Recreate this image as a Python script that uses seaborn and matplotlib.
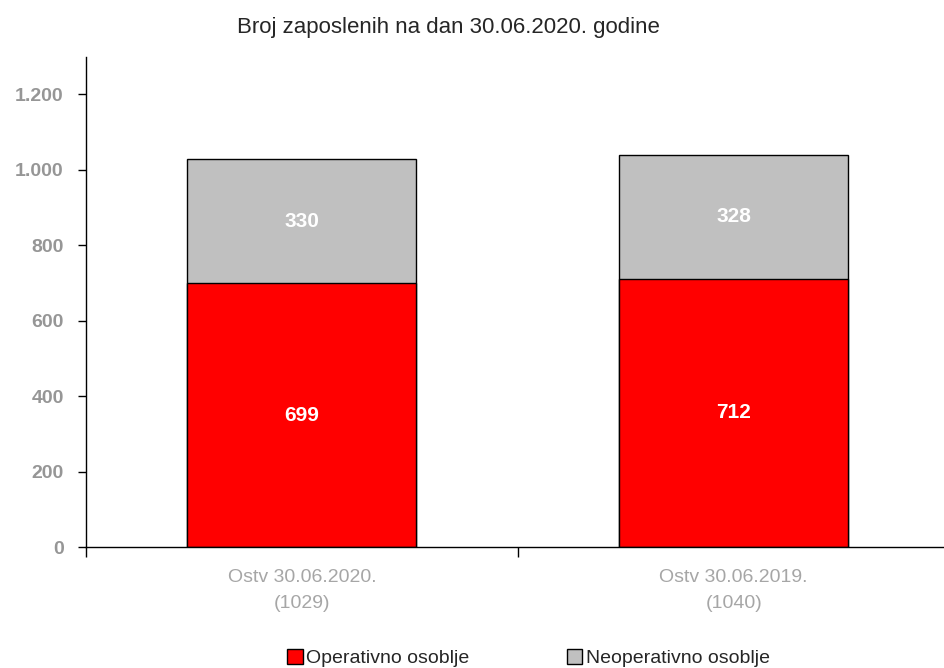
import pandas as pd
import numpy as np
import matplotlib
matplotlib.use("Agg")
import matplotlib.pyplot as plt
import seaborn as sns
from matplotlib.patches import Patch

# data
categories = ["Ostv 30.06.2020.\n(1029)", "Ostv 30.06.2019.\n(1040)"]
operativno = [699, 712]
neoperativno = [330, 328]
yticks = [0, 200, 400, 600, 800, 1000, 1200]
ytick_labels = ["0", "200", "400", "600", "800", "1.000", "1.200"]

df = pd.DataFrame({"kat": categories,
                   "op": operativno,
                   "neop": neoperativno})
df["total"] = df["op"] + df["neop"]

sns.set_style("white")
plt.rcParams['font.family'] = ['Liberation Sans', 'DejaVu Sans']

fig = plt.figure(figsize=(9.44, 6.68), dpi=100)
ax = fig.add_axes([0.091, 0.181, 0.915, 0.734])

red = "#FF0000"
grey = "#C0C0C0"

# total bar first (grey), then the red part over it
sns.barplot(ax=ax, data=df, x="kat", y="total", color=grey, width=0.53,
            edgecolor="black", linewidth=1, saturation=1)
sns.barplot(ax=ax, data=df, x="kat", y="op", color=red, width=0.53,
            edgecolor="black", linewidth=1, saturation=1)

for i, row in df.iterrows():
    ax.text(i, row["op"] / 2, str(row["op"]), ha="center", va="center",
            color="white", fontsize=15, fontweight="bold")
    ax.text(i, row["op"] + row["neop"] / 2, str(row["neop"]), ha="center",
            va="center", color="white", fontsize=15, fontweight="bold")

ax.set_xlim(-0.5, 1.5)
ax.set_ylim(0, 1300)
ax.set_yticks(yticks)
ax.set_yticklabels(ytick_labels, color="#969696", fontweight="bold", fontsize=14)
ax.set_xticks([-0.5, 0.5], minor=False)
ax.set_xticklabels([])
ax.set_xticks([0, 1], minor=True)
ax.set_xticklabels(categories, minor=True, color="#A6A6A6", fontsize=14,
                   linespacing=1.7)
ax.tick_params(axis="x", which="minor", bottom=True, length=0, pad=16)
ax.tick_params(axis="x", which="major", bottom=True, length=7, width=1,
               color="black", direction="out")
ax.tick_params(axis="y", left=True, length=6, width=1, color="black",
               direction="out", pad=10)
ax.set_xlabel("")
ax.set_ylabel("")

for s in ["top", "right"]:
    ax.spines[s].set_visible(False)
for s in ["left", "bottom"]:
    ax.spines[s].set_color("black")
    ax.spines[s].set_linewidth(1)

fig.suptitle("Broj zaposlenih na dan 30.06.2020. godine", x=0.475, y=0.975,
             fontsize=16)

handles = [Patch(facecolor=red, edgecolor="black", label="Operativno osoblje"),
           Patch(facecolor=grey, edgecolor="black", label="Neoperativno osoblje")]
fig.legend(handles=handles, loc="lower center", bbox_to_anchor=(0.56, -0.025),
           ncol=2, frameon=False, fontsize=14, handlelength=0.8,
           handleheight=0.8, handletextpad=0.2, columnspacing=5)

fig.savefig("out.png", dpi=100)
